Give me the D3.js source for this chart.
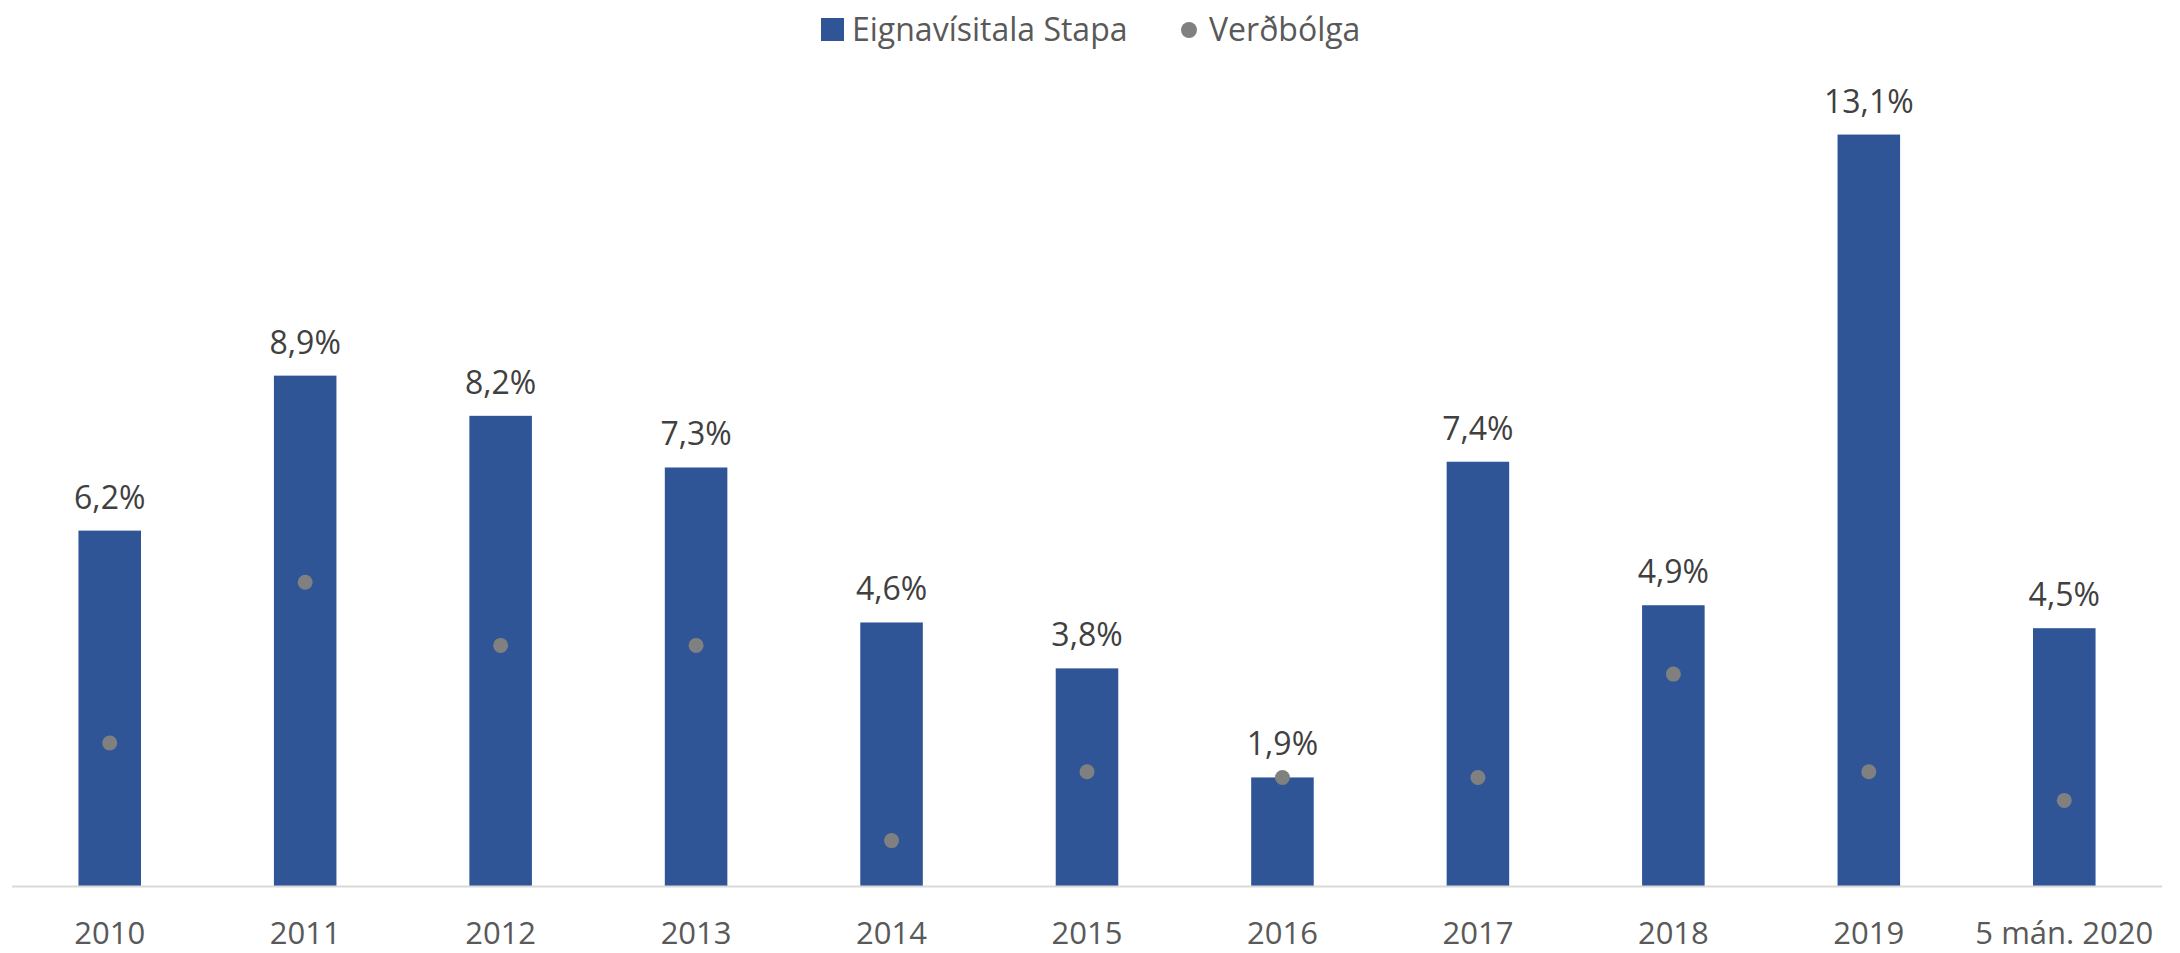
<!doctype html>
<html lang="is">
<head>
<meta charset="utf-8">
<style>
  body, html { margin:0; padding:0; background:#fff; overflow:hidden; }
  svg { display:block; font-family:"Open Sans", "Noto Sans", sans-serif; }
</style>
</head>
<body>
<div id="chart"></div>
<script src="https://cdn.jsdelivr.net/npm/d3@7"></script>
<script>
// data
const categories = ["2010","2011","2012","2013","2014","2015","2016","2017","2018","2019","5 mán. 2020"];
const eignavisitala = [6.2, 8.9, 8.2, 7.3, 4.6, 3.8, 1.9, 7.4, 4.9, 13.1, 4.5];
const verdbolga = [2.5, 5.3, 4.2, 4.2, 0.8, 2.0, 1.9, 1.9, 3.7, 2.0, 1.5];
const seriesNames = ["Eignavísitala Stapa", "Verðbólga"];

const width = 2180, height = 953;
const barColor = "#2F5597", dotColor = "#808080";

const svg = d3.select("#chart").append("svg")
  .attr("width", width).attr("height", height);

const x = d3.scaleBand().domain(categories).range([12, 2162]).paddingInner(0.68).paddingOuter(0.34);
const y = d3.scaleLinear().domain([0, 14]).range([886.5, 886.5 - 14 * 57.4]);

// bars
svg.append("g").selectAll("rect").data(categories).join("rect")
  .attr("x", d => x(d))
  .attr("width", x.bandwidth())
  .attr("y", (d, i) => y(eignavisitala[i]))
  .attr("height", (d, i) => y(0) - y(eignavisitala[i]))
  .attr("fill", barColor);

// x axis
const xAxis = svg.append("g").attr("transform", `translate(0,${y(0)})`)
  .call(d3.axisBottom(x).tickSize(0).tickPadding(0));
xAxis.select(".domain").attr("stroke", "#D9D9D9").attr("stroke-width", 2)
  .attr("d", "M12,0H2162");
xAxis.selectAll("text")
  .attr("font-size", 31).attr("fill", "#595959")
  .attr("font-family", "Open Sans, sans-serif")
  .attr("dy", null).attr("y", 57);

// data labels
const fmt = v => d3.format(".1f")(v).replace(".", ",") + "%";
svg.append("g").selectAll("text").data(categories).join("text")
  .attr("x", d => x(d) + x.bandwidth() / 2)
  .attr("y", (d, i) => y(eignavisitala[i]) - 22)
  .attr("text-anchor", "middle")
  .attr("font-size", 32)
  .attr("fill", "#404040")
  .text((d, i) => fmt(eignavisitala[i]));

// inflation dots
svg.append("g").selectAll("circle").data(categories).join("circle")
  .attr("cx", d => x(d) + x.bandwidth() / 2)
  .attr("cy", (d, i) => y(verdbolga[i]))
  .attr("r", 7.5)
  .attr("fill", dotColor);

// legend
const legend = svg.append("g").attr("font-size", 32).attr("fill", "#595959");
legend.append("rect").attr("x", 821).attr("y", 18).attr("width", 23).attr("height", 23).attr("fill", barColor);
legend.append("text").attr("x", 852).attr("y", 41).text(seriesNames[0]);
legend.append("circle").attr("cx", 1189).attr("cy", 30).attr("r", 8).attr("fill", dotColor);
legend.append("text").attr("x", 1209).attr("y", 41).text(seriesNames[1]);
</script>
</body>
</html>
